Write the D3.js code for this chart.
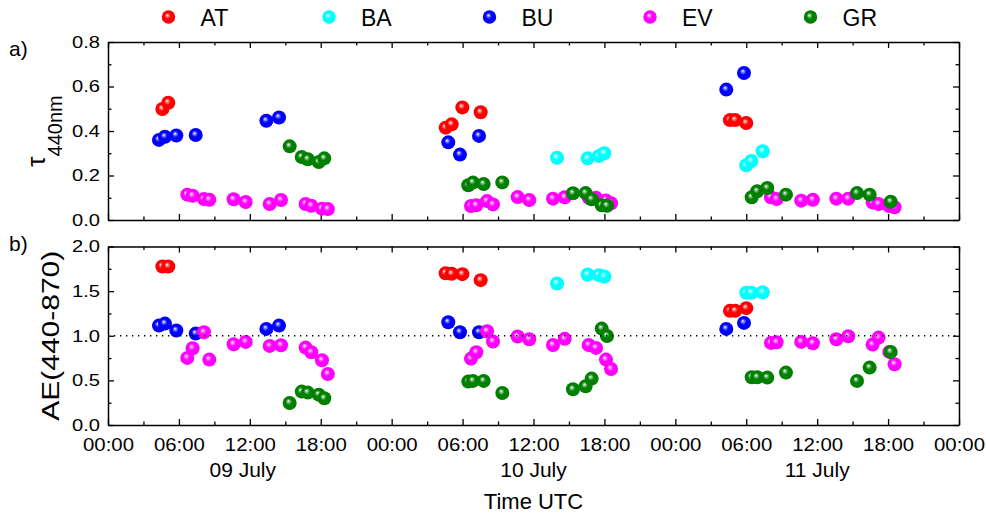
<!DOCTYPE html>
<html>
<head>
<meta charset="utf-8">
<script src="https://cdn.jsdelivr.net/npm/d3@7"></script>
<style>
  body { margin: 0; background: #fff; }
  svg text { font-family: "Liberation Sans", Arial, sans-serif; fill: #000; }
</style>
</head>
<body>
<div id="chart"></div>
<script>
// hours counted from 09 July 00:00 UTC
const seriesNames = ["AT", "BA", "BU", "EV", "GR"]
const seriesColors = ["#ff0000", "#00ffff", "#0000ff", "#ff00ff", "#008000"]

const atTime = [4.6, 5.1, 28.57, 29.08, 29.98, 31.53, 52.62, 53.07, 54.0]
const atAod = [0.499, 0.527, 0.415, 0.43, 0.506, 0.484, 0.449, 0.449, 0.436]
const atAe = [1.776, 1.776, 1.701, 1.694, 1.69, 1.623, 1.279, 1.279, 1.309]

const baTime = [37.99, 40.58, 41.54, 41.99, 54.0, 54.43, 55.39]
const baAod = [0.28, 0.277, 0.288, 0.3, 0.246, 0.265, 0.309]
const baAe = [1.585, 1.686, 1.679, 1.664, 1.481, 1.481, 1.488]

const buTime = [4.31, 4.82, 5.78, 7.42, 13.4, 14.47, 28.79, 29.78, 31.39, 52.31, 53.81]
const buAod = [0.36, 0.374, 0.38, 0.382, 0.446, 0.461, 0.349, 0.294, 0.378, 0.586, 0.661]
const buAe = [1.114, 1.136, 1.058, 1.024, 1.077, 1.114, 1.152, 1.04, 1.04, 1.077, 1.144]

const evTime = [6.71, 7.16, 8.12, 8.57, 10.63, 11.65, 13.68, 14.64, 16.72, 17.2, 18.1, 18.6,
    30.71, 31.16, 32.07, 32.57, 34.66, 35.64, 37.65, 38.64, 40.67, 41.29, 42.13, 42.56,
    56.09, 56.57, 58.65, 59.64, 61.62, 62.63, 64.69, 65.2, 66.1, 66.55]
const evAod = [0.114, 0.109, 0.094, 0.091, 0.093, 0.081, 0.072, 0.09, 0.072, 0.064, 0.051, 0.049,
    0.063, 0.066, 0.085, 0.07, 0.103, 0.09, 0.096, 0.102, 0.1, 0.1, 0.088, 0.075,
    0.102, 0.094, 0.087, 0.091, 0.096, 0.096, 0.079, 0.072, 0.063, 0.057]
const evAe = [0.752, 0.86, 1.04, 0.733, 0.905, 0.931, 0.886, 0.894, 0.867, 0.815, 0.725, 0.572,
    0.744, 0.815, 1.051, 0.935, 0.991, 0.961, 0.897, 0.965, 0.897, 0.864, 0.733, 0.628,
    0.92, 0.927, 0.931, 0.916, 0.961, 0.995, 0.901, 0.979, 0.819, 0.681]

const grTime = [15.37, 16.39, 16.9, 17.83, 18.3,
    30.48, 30.88, 31.78, 33.36, 39.34, 40.41, 40.92, 41.77, 42.22,
    54.46, 54.93, 55.78, 57.36, 63.37, 64.44, 66.22]
const grAod = [0.331, 0.283, 0.273, 0.261, 0.277,
    0.156, 0.168, 0.162, 0.169, 0.12, 0.121, 0.093, 0.066, 0.064,
    0.102, 0.129, 0.144, 0.114, 0.121, 0.114, 0.082]
const grAe = [0.247, 0.374, 0.363, 0.34, 0.299,
    0.486, 0.494, 0.494, 0.359, 0.4, 0.434, 0.52, 1.08, 0.998,
    0.535, 0.535, 0.531, 0.587, 0.494, 0.643, 0.819]

const xMajorTicks = [0, 6, 12, 18, 24, 30, 36, 42, 48, 54, 60, 66, 72]
const dayLabels = ["09 July", "10 July", "11 July"]
const dayLabelHours = [11.4, 36, 60]
const aodTicks = [0, 0.2, 0.4, 0.6, 0.8]
const aeTicks = [0, 0.5, 1.0, 1.5, 2.0]
const aeReference = 1.0

const allTimes = [atTime, baTime, buTime, evTime, grTime]
const allAod = [atAod, baAod, buAod, evAod, grAod]
const allAe = [atAe, baAe, buAe, evAe, grAe]

const W = 986, H = 513
const left = 108, right = 959
const panelA = {top: 42, bottom: 220}
const panelB = {top: 246.5, bottom: 425}

const svg = d3.select("#chart").append("svg")
    .attr("width", W).attr("height", H)

// shaded ball gradients
const defs = svg.append("defs")
seriesColors.forEach((c, i) => {
    const g = defs.append("radialGradient")
        .attr("id", "ball" + i)
        .attr("cx", "50%").attr("cy", "50%").attr("r", "55%")
        .attr("fx", "40%").attr("fy", "36%")
    g.append("stop").attr("offset", "0%").attr("stop-color", "#ffffff")
    g.append("stop").attr("offset", "20%").attr("stop-color", d3.interpolateRgb("#ffffff", c)(0.55))
    g.append("stop").attr("offset", "42%").attr("stop-color", c)
    g.append("stop").attr("offset", "85%").attr("stop-color", c)
    g.append("stop").attr("offset", "100%").attr("stop-color", d3.color(c).darker(0.5))
})

const x = d3.scaleLinear().domain([0, 72]).range([left, right])
const xMinor = d3.range(3, 72, 6)
const fmtHour = h => String(h % 24).padStart(2, "0") + ":00"

function drawPanel(p, yMax, yTicks, yMinor, values, showXLabels) {
    const y = d3.scaleLinear().domain([0, yMax]).range([p.bottom, p.top])
    const g = svg.append("g")

    const styleAxis = sel => {
        sel.select(".domain").attr("stroke", "#000").attr("stroke-width", 1.5)
        sel.selectAll(".tick line").attr("stroke", "#000").attr("stroke-width", 1.3)
    }

    // bottom
    const bot = g.append("g").attr("transform", `translate(0,${p.bottom})`)
        .call(d3.axisBottom(x).tickValues(xMajorTicks).tickSize(-6).tickSizeOuter(0)
            .tickPadding(13).tickFormat(showXLabels ? fmtHour : ""))
    styleAxis(bot)
    bot.selectAll("text").attr("font-size", 18.5).attr("textLength", 51)
        .attr("lengthAdjust", "spacingAndGlyphs")
    g.append("g").attr("transform", `translate(0,${p.bottom})`)
        .call(d3.axisBottom(x).tickValues(xMinor).tickSize(-3.5).tickFormat(""))
        .call(s => s.select(".domain").remove())
        .call(styleAxis)

    // top
    g.append("g").attr("transform", `translate(0,${p.top})`)
        .call(d3.axisTop(x).tickValues(xMajorTicks).tickSize(-6).tickSizeOuter(0).tickFormat(""))
        .call(styleAxis)
    g.append("g").attr("transform", `translate(0,${p.top})`)
        .call(d3.axisTop(x).tickValues(xMinor).tickSize(-3.5).tickFormat(""))
        .call(s => s.select(".domain").remove())
        .call(styleAxis)

    // left
    const lft = g.append("g").attr("transform", `translate(${left},0)`)
        .call(d3.axisLeft(y).tickValues(yTicks).tickSize(-6).tickSizeOuter(0)
            .tickPadding(8).tickFormat(d3.format(".1f")))
    styleAxis(lft)
    lft.selectAll("text").attr("font-size", 17).attr("textLength", 28)
        .attr("lengthAdjust", "spacingAndGlyphs")
    g.append("g").attr("transform", `translate(${left},0)`)
        .call(d3.axisLeft(y).tickValues(yMinor).tickSize(-3.5).tickFormat(""))
        .call(s => s.select(".domain").remove())
        .call(styleAxis)

    // right
    g.append("g").attr("transform", `translate(${right},0)`)
        .call(d3.axisRight(y).tickValues(yTicks).tickSize(-6).tickSizeOuter(0).tickFormat(""))
        .call(styleAxis)
    g.append("g").attr("transform", `translate(${right},0)`)
        .call(d3.axisRight(y).tickValues(yMinor).tickSize(-3.5).tickFormat(""))
        .call(s => s.select(".domain").remove())
        .call(styleAxis)

    // points, series drawn in legend order
    seriesNames.forEach((name, i) => {
        g.append("g").selectAll("circle")
            .data(allTimes[i].map((t, j) => ({t: t, v: values[i][j]})))
            .enter().append("circle")
            .attr("cx", d => x(d.t))
            .attr("cy", d => y(d.v))
            .attr("r", 7)
            .attr("fill", `url(#ball${i})`)
    })
    return y
}

drawPanel(panelA, 0.8, aodTicks, d3.range(1, 8, 2).map(d => d / 10), allAod, false)
const yB = drawPanel(panelB, 2.0, aeTicks, [0.25, 0.75, 1.25, 1.75], allAe, true)

// reference line at AE = 1
svg.append("line")
    .attr("x1", left).attr("x2", right)
    .attr("y1", yB(aeReference)).attr("y2", yB(aeReference))
    .attr("stroke", "#000").attr("stroke-width", 1.3)
    .attr("stroke-dasharray", "1.3,4.7")

// panel tags
svg.append("text").attr("x", 9).attr("y", 56).attr("font-size", 21).text("a)")
svg.append("text").attr("x", 9).attr("y", 251).attr("font-size", 21).text("b)")

// y titles
const tauLabel = svg.append("text")
    .attr("transform", `translate(45,${(panelA.top + panelA.bottom) / 2}) rotate(-90)`)
    .attr("text-anchor", "middle")
tauLabel.append("tspan").attr("font-size", 26).text("τ")
tauLabel.append("tspan").attr("font-size", 20).attr("dy", 17).text("440nm")

svg.append("text")
    .attr("transform", `translate(59,${(panelB.top + panelB.bottom) / 2}) rotate(-90)`)
    .attr("text-anchor", "middle")
    .attr("font-size", 23)
    .attr("textLength", 170).attr("lengthAdjust", "spacingAndGlyphs")
    .text("AE(440-870)")

// day labels and axis title
svg.append("g").selectAll("text")
    .data(dayLabels)
    .enter().append("text")
    .attr("x", (d, i) => x(dayLabelHours[i]))
    .attr("y", 477)
    .attr("text-anchor", "middle")
    .attr("font-size", 21)
    .text(d => d)

svg.append("text")
    .attr("x", x(36)).attr("y", 509)
    .attr("text-anchor", "middle")
    .attr("font-size", 22)
    .text("Time UTC")

// legend
const legend = svg.append("g").selectAll("g")
    .data(seriesNames)
    .enter().append("g")
    .attr("transform", (d, i) => `translate(${168.5 + i * 160.5},17)`)
legend.append("circle")
    .attr("r", 6.7)
    .attr("fill", (d, i) => `url(#ball${i})`)
legend.append("text")
    .attr("x", 32).attr("y", 9)
    .attr("font-size", 23)
    .text(d => d)
</script>
</body>
</html>
